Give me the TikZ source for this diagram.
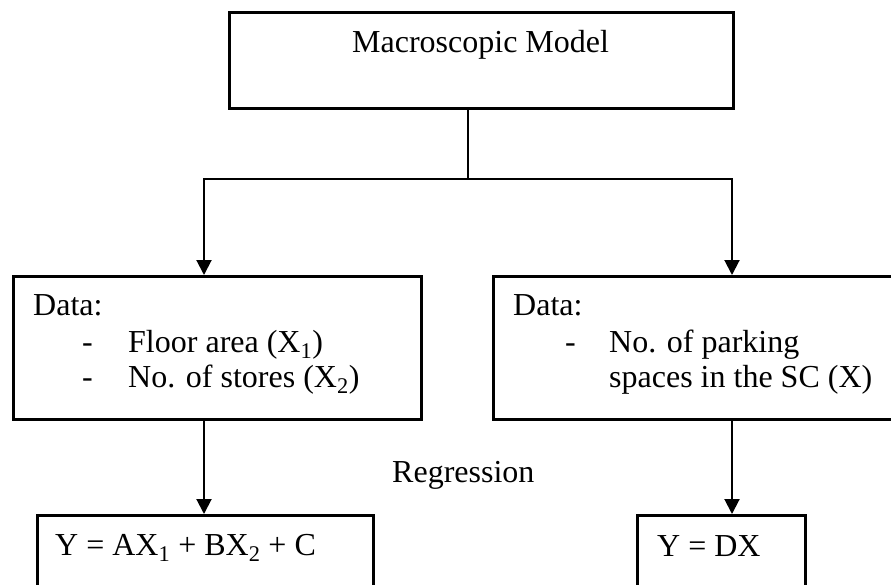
\documentclass[tikz,border=0pt]{standalone}
\usepackage{fontspec}
\setmainfont{Liberation Serif}
\usetikzlibrary{arrows.meta}
\tikzset{
  box/.style={draw, line width=2.6pt, rectangle, anchor=north west, inner sep=0pt},
  txt/.style={anchor=base west, inner sep=0pt, font=\fontsize{32}{36}\selectfont},
  conn/.style={line width=2pt},
  arr/.style={conn, -{Triangle[width=15pt,length=15pt]}}
}
\begin{document}
\begin{tikzpicture}[x=1pt, y=-1pt]
    \useasboundingbox (0,0) rectangle (891,584);
    \clip (0,0) rectangle (891,584);
    % boxes
    \node[box, minimum width=504pt, minimum height=96pt] (model) at (228,11) {};
    \node[box, minimum width=408pt, minimum height=143pt] (datal) at (12,275) {};
    \node[box, minimum width=420pt, minimum height=143pt] (datar) at (492,275) {};
    \node[box, minimum width=336pt, minimum height=110pt] (eql) at (36,514) {};
    \node[box, minimum width=168pt, minimum height=110pt] (eqr) at (636,514) {};
    % texts
    \node[txt] (title) at (352,52) {Macroscopic Model};
    \node[txt] (headl) at (33,315) {Data:};
    \node[txt] (dashla) at (82,352) {-};
    \node[txt] (floor) at (128,352) {Floor area (X\textsubscript{1})};
    \node[txt] (dashlb) at (82,387) {-};
    \node[txt] (stores) at (128,387) {No. of stores (X\textsubscript{2})};
    \node[txt] (headr) at (513,315) {Data:};
    \node[txt] (dashr) at (565,352) {-};
    \node[txt] (parka) at (609,352) {No. of parking};
    \node[txt] (parkb) at (609,387) {spaces in the SC (X)};
    \node[txt] (regr) at (392,482) {Regression};
    \node[txt] (forml) at (55,555) {Y = AX\textsubscript{1} + BX\textsubscript{2} + C};
    \node[txt] (formr) at (657,556) {Y = DX};
    % connectors
    \coordinate (split) at (468,179);
    \coordinate (lft) at (204,179);
    \coordinate (rgt) at (732,179);
    \draw[conn] (model.south -| split) -- (split);
    \draw[arr] (split) -- (lft) -- (lft |- datal.north);
    \draw[arr] (split) -- (rgt) -- (rgt |- datar.north);
    \draw[arr] (lft |- datal.south) -- (lft |- eql.north);
    \draw[arr] (rgt |- datar.south) -- (rgt |- eqr.north);
\end{tikzpicture}
\end{document}
